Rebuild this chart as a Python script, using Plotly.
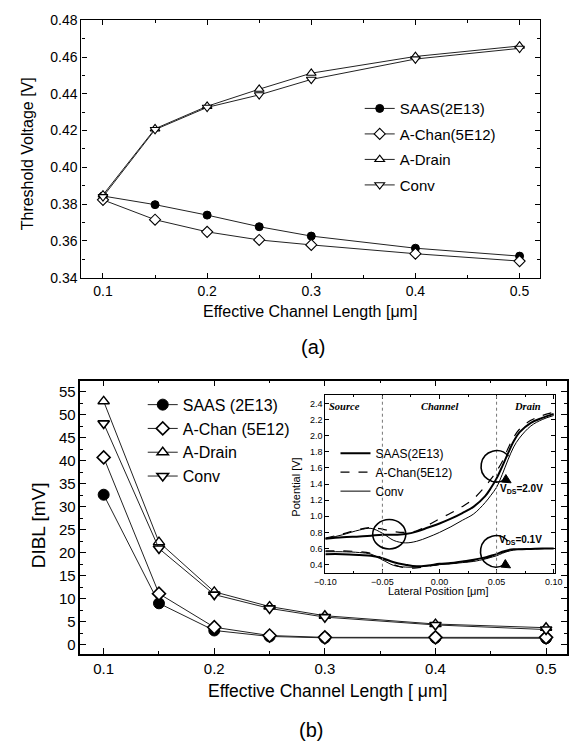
import math
import plotly.graph_objects as go

W, H = 574, 751
FONT = "Liberation Sans, Arial, sans-serif"
SERIF = "Liberation Serif, Times New Roman, serif"

# ---------------- data (a): threshold voltage ----------------
L_eff = [0.1, 0.15, 0.2, 0.25, 0.3, 0.4, 0.5]
vth_saas = [0.3844, 0.3797, 0.3740, 0.3677, 0.3626, 0.3560, 0.3517]
vth_achan = [0.3823, 0.3715, 0.3649, 0.3605, 0.3578, 0.3530, 0.3490]
vth_adrain = [0.3850, 0.4210, 0.4332, 0.4425, 0.4512, 0.4603, 0.4660]
vth_conv = [0.3840, 0.4205, 0.4326, 0.4394, 0.4478, 0.4589, 0.4647]
names_a = ["SAAS(2E13)", "A-Chan(5E12)", "A-Drain", "Conv"]

# ---------------- data (b): DIBL ----------------
dibl_saas = [32.6, 9.0, 3.1, 1.8, 1.5, 1.5, 1.4]
dibl_achan = [40.7, 11.1, 3.8, 2.0, 1.6, 1.6, 1.6]
dibl_adrain = [52.9, 22.3, 11.5, 8.3, 6.3, 4.5, 3.7]
dibl_conv = [48.1, 20.9, 10.9, 7.9, 6.0, 4.3, 3.3]
names_b = ["SAAS (2E13)", "A-Chan (5E12)", "A-Drain", "Conv"]

# ---------------- data (inset): potential profiles ----------------
pos = [-0.100, -0.085, -0.070, -0.060, -0.050, -0.040, -0.030, -0.020, -0.010, 0.000,
       0.010, 0.020, 0.030, 0.040, 0.045, 0.050, 0.055, 0.060, 0.065, 0.070, 0.080, 0.090, 0.100]
pot_hi_saas = [0.72, 0.74, 0.75, 0.76, 0.77, 0.77, 0.78, 0.81, 0.86, 0.91, 0.97, 1.04, 1.12,
               1.25, 1.35, 1.47, 1.62, 1.78, 1.93, 2.04, 2.16, 2.22, 2.27]
pot_hi_achan = [0.73, 0.78, 0.84, 0.86, 0.84, 0.81, 0.80, 0.82, 0.89, 0.97, 1.04, 1.12, 1.22,
                1.37, 1.46, 1.56, 1.68, 1.84, 1.98, 2.08, 2.19, 2.25, 2.29]
pot_hi_conv = [0.72, 0.77, 0.83, 0.85, 0.79, 0.70, 0.67, 0.69, 0.74, 0.80, 0.87, 0.95, 1.03,
               1.17, 1.26, 1.36, 1.52, 1.70, 1.86, 1.97, 2.12, 2.20, 2.25]
pot_lo_saas = [0.53, 0.53, 0.52, 0.51, 0.48, 0.43, 0.40, 0.38, 0.39, 0.41, 0.42, 0.44, 0.46,
               0.49, 0.51, 0.53, 0.56, 0.58, 0.59, 0.59, 0.595, 0.60, 0.60]
pot_lo_achan = [0.57, 0.57, 0.56, 0.54, 0.48, 0.40, 0.36, 0.36, 0.38, 0.40, 0.415, 0.43, 0.45,
                0.48, 0.50, 0.52, 0.55, 0.57, 0.585, 0.59, 0.595, 0.60, 0.60]
pot_lo_conv = [0.56, 0.56, 0.55, 0.53, 0.46, 0.39, 0.37, 0.37, 0.385, 0.40, 0.41, 0.425, 0.44,
               0.47, 0.49, 0.51, 0.54, 0.565, 0.58, 0.59, 0.595, 0.60, 0.60]
names_in = ["SAAS(2E13)", "A-Chan(5E12)", "Conv"]


def dx(p0, p1):
    return [p0 / W, p1 / W]


def dy(p0, p1):
    return [1 - p1 / H, 1 - p0 / H]


fig = go.Figure()

# ---- panel (a)
sty_a = [
    dict(symbol="circle", color="black", size=8, line=dict(color="black", width=1)),
    dict(symbol="diamond", color="white", size=8.5, line=dict(color="black", width=1.1)),
    dict(symbol="triangle-up", color="white", size=8.5, line=dict(color="black", width=1.1)),
    dict(symbol="triangle-down", color="white", size=8.5, line=dict(color="black", width=1.1)),
]
for i, (nm, ys) in enumerate(zip(names_a, [vth_saas, vth_achan, vth_adrain, vth_conv])):
    fig.add_trace(go.Scatter(x=L_eff, y=ys, name=nm, mode="lines+markers",
                             line=dict(color="#222", width=1), marker=sty_a[i],
                             xaxis="x", yaxis="y", legend="legend", legendgroup="a%d" % i))

# ---- panel (b)
sty_b = [
    dict(symbol="circle", color="black", size=11, line=dict(color="black", width=1)),
    dict(symbol="diamond", color="white", size=10, line=dict(color="black", width=1.6)),
    dict(symbol="triangle-up", color="white", size=10, line=dict(color="black", width=1.4)),
    dict(symbol="triangle-down", color="white", size=10, line=dict(color="black", width=1.6)),
]
for i, (nm, ys) in enumerate(zip(names_b, [dibl_saas, dibl_achan, dibl_adrain, dibl_conv])):
    fig.add_trace(go.Scatter(x=L_eff, y=ys, name=nm, mode="lines+markers",
                             line=dict(color="#222", width=1), marker=sty_b[i],
                             xaxis="x2", yaxis="y2", legend="legend2", legendgroup="b%d" % i))

# ---- inset
in_styles = [dict(color="black", width=2), dict(color="black", width=1.2, dash="dash"),
             dict(color="black", width=1)]
for i, (nm, ys) in enumerate(zip(names_in, [pot_hi_saas, pot_hi_achan, pot_hi_conv])):
    fig.add_trace(go.Scatter(x=pos, y=ys, name=nm, mode="lines", line=dict(shape="spline", **in_styles[i]),
                             xaxis="x3", yaxis="y3", legend="legend3", legendgroup="c%d" % i))
for i, (nm, ys) in enumerate(zip(names_in, [pot_lo_saas, pot_lo_achan, pot_lo_conv])):
    fig.add_trace(go.Scatter(x=pos, y=ys, name=nm, mode="lines", line=dict(shape="spline", **in_styles[i]),
                             xaxis="x3", yaxis="y3", showlegend=False, legendgroup="c%d" % i))

ax_common = dict(showline=True, linecolor="black", mirror="allticks", ticks="inside",
                 tickcolor="black", showgrid=False, zeroline=False)

# inset geometry helpers
IX0, IX1, IY0, IY1 = 324.5, 562.0, 395.8, 577.0
IXR = [-0.1, 0.1015]
IYR = [0.3, 2.5]
sx = (IXR[1] - IXR[0]) / (IX1 - IX0)   # data units per px
sy = (IYR[1] - IYR[0]) / (IY1 - IY0)


def arc_path(cx, cy, rpx, a0, a1, n=4):
    rx, ry = rpx * sx, rpx * sy
    step = (a1 - a0) / n
    k = 4 / 3 * math.tan(math.radians(step) / 4)

    def P(a):
        r = math.radians(a)
        return cx + rx * math.cos(r), cy + ry * math.sin(r)

    def T(a):
        r = math.radians(a)
        return -rx * math.sin(r), ry * math.cos(r)

    x, y = P(a0)
    d = "M%.5f,%.5f" % (x, y)
    for j in range(n):
        aa, bb = a0 + j * step, a0 + (j + 1) * step
        p0, p1 = P(aa), P(bb)
        t0, t1 = T(aa), T(bb)
        c1 = (p0[0] + k * t0[0], p0[1] + k * t0[1])
        c2 = (p1[0] - k * t1[0], p1[1] - k * t1[1])
        d += " C%.5f,%.5f %.5f,%.5f %.5f,%.5f" % (c1[0], c1[1], c2[0], c2[1], p1[0], p1[1])
    return d, P(a1)


def head_path(tip, dxp, dyp):
    L = math.hypot(dxp, dyp)
    ux, uy = dxp / L, dyp / L
    bx, by = -ux * 9, -uy * 9
    px_, py_ = -uy * 4.5, ux * 4.5
    x0, y0 = tip
    p1 = (x0 + (bx + px_) * sx, y0 + (by + py_) * sy)
    p2 = (x0 + (bx - px_) * sx, y0 + (by - py_) * sy)
    return "M%.5f,%.5f L%.5f,%.5f L%.5f,%.5f Z" % (x0, y0, p1[0], p1[1], p2[0], p2[1])


shapes = []
for xv in [-0.05, 0.05]:
    shapes.append(dict(type="line", xref="x3", yref="y3 domain", x0=xv, x1=xv, y0=0, y1=1,
                       line=dict(color="#777", width=1, dash="dot")))
shapes.append(dict(type="circle", xref="x3", yref="y3", x0=-0.0585, x1=-0.0295, y0=0.595, y1=0.96,
                   line=dict(color="black", width=1.6)))
for (cx, cy) in [(0.0500, 1.62), (0.0495, 0.565)]:
    d, endp = arc_path(cx, cy, 16, 40, 300)
    shapes.append(dict(type="path", xref="x3", yref="y3", path=d, line=dict(color="black", width=1.6)))
    shapes.append(dict(type="path", xref="x3", yref="y3",
                       path=head_path((endp[0] + 7 * sx, endp[1] - 3 * sy), 1, -0.6),
                       fillcolor="black", line=dict(color="black", width=1)))


def ann(text, px, py, size, angle=0, font=FONT, xanchor="center", xref="paper", yref="paper", x=None, y=None):
    return dict(text=text, x=px / W if x is None else x, y=1 - py / H if y is None else y,
                xref=xref, yref=yref, showarrow=False, textangle=angle,
                xanchor=xanchor, yanchor="middle", font=dict(family=font, size=size, color="black"))


annotations = [
    ann("Threshold Voltage [V]", 17, 149, 16, angle=-90),
    ann("Effective Channel Length [\u03bcm]", 308.5, 310, 16),
    ann("(a)", 311.7, 346.7, 20),
    ann("DIBL [mV]", 28.5, 529, 19, angle=-90),
    ann("Effective Channel Length [ \u03bcm]", 326.3, 698, 17.5),
    ann("(b)", 310, 738, 20),
    ann("Lateral Position [\u03bcm]", 441.7, 596, 11),
    ann("Potential [V]", 293.3, 490, 11, angle=-90),
    ann("<b><i>Source</i></b>", 0, 0, 10.5, font=SERIF, xref="x3", yref="y3", x=-0.0835, y=2.36),
    ann("<b><i>Channel</i></b>", 0, 0, 10.5, font=SERIF, xref="x3", yref="y3", x=0.0, y=2.36),
    ann("<b><i>Drain</i></b>", 0, 0, 10.5, font=SERIF, xref="x3", yref="y3", x=0.0775, y=2.36),
    ann("<b>V<sub>DS</sub>=2.0V</b>", 0, 0, 10, xanchor="left", xref="x3", yref="y3", x=0.051, y=1.34),
    ann("<b>V<sub>DS</sub>=0.1V</b>", 0, 0, 10, xanchor="left", xref="x3", yref="y3", x=0.050, y=0.70),
]

fig.update_layout(
    width=W, height=H, margin=dict(l=0, r=0, t=0, b=0, pad=0),
    paper_bgcolor="white", plot_bgcolor="white",
    font=dict(family=FONT, color="black"),
    xaxis=dict(domain=dx(72.7, 546), anchor="y", range=[0.0793, 0.5195], tick0=0.1, dtick=0.1,
               ticklen=5, tickfont=dict(size=14), linewidth=1.2,
               minor=dict(ticks="inside", ticklen=3, dtick=0.05, tick0=0, tickcolor="black"), **ax_common),
    yaxis=dict(domain=dy(12.5, 275.5), anchor="x", range=[0.34, 0.48], dtick=0.02, tick0=0.34,
               tickformat=".2f", ticklen=5, tickfont=dict(size=14), linewidth=1.2,
               minor=dict(ticks="inside", ticklen=3, dtick=0.01, tick0=0, tickcolor="black"), **ax_common),
    xaxis2=dict(domain=dx(71.7, 573.5), anchor="y2", range=[0.079, 0.5185], tick0=0.1, dtick=0.1,
                ticklen=6, tickfont=dict(size=15), linewidth=1.6,
                minor=dict(ticks="inside", ticklen=3, dtick=0.05, tick0=0, tickcolor="black"), **ax_common),
    yaxis2=dict(domain=dy(380.7, 660), anchor="x2", range=[-2.0, 57.4], dtick=5, tick0=0,
                ticklen=6, tickfont=dict(size=15), linewidth=1.6,
                minor=dict(ticks="inside", ticklen=3, dtick=2.5, tick0=0, tickcolor="black"), **ax_common),
    xaxis3=dict(domain=dx(IX0, IX1), anchor="y3", range=IXR, tickvals=[-0.1, -0.05, 0, 0.05, 0.1],
                tickformat=".2f", ticklen=4, tickfont=dict(size=9), linewidth=1,
                minor=dict(ticks="inside", ticklen=2, tickvals=[-0.075, -0.025, 0.025, 0.075], tickcolor="black"),
                **ax_common),
    yaxis3=dict(domain=dy(IY0, IY1), anchor="x3", range=IYR,
                tickvals=[0.4, 0.6, 0.8, 1.0, 1.2, 1.4, 1.6, 1.8, 2.0, 2.2, 2.4],
                tickformat=".1f", ticklen=4, tickfont=dict(size=9), linewidth=1, **ax_common),
    legend=dict(x=360 / W, y=1 - 86 / H, xanchor="left", yanchor="top", bgcolor="rgba(0,0,0,0)",
                font=dict(size=15), tracegroupgap=3, itemwidth=30),
    legend2=dict(x=136 / W, y=1 - 388 / H, xanchor="left", yanchor="top", bgcolor="rgba(0,0,0,0)",
                 font=dict(size=16), tracegroupgap=0, itemwidth=30),
    legend3=dict(x=335 / W, y=1 - 440 / H, xanchor="left", yanchor="top", bgcolor="rgba(0,0,0,0)",
                 font=dict(size=12), tracegroupgap=0, itemwidth=30),
    shapes=shapes,
    annotations=annotations,
)

fig.write_html("out.html")
